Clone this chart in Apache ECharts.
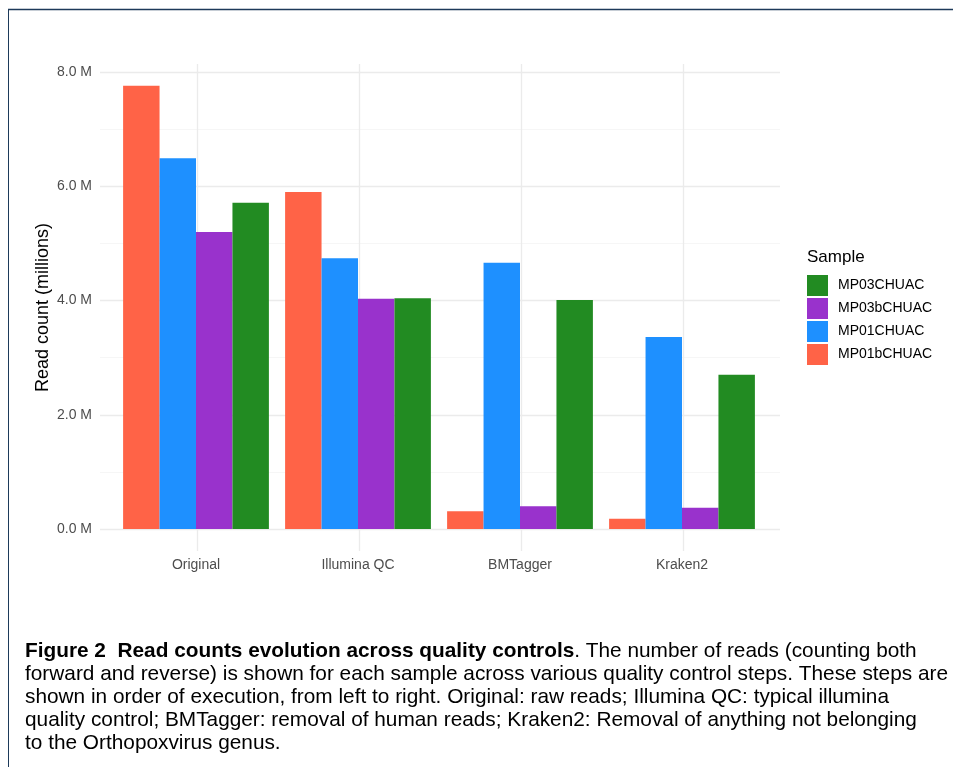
<!DOCTYPE html>
<html>
<head>
<meta charset="utf-8">
<script src="https://cdn.jsdelivr.net/npm/echarts@6/dist/echarts.min.js"></script>
<style>
html,body{margin:0;padding:0;background:#fff;}
#chart{width:953px;height:767px;}
</style>
</head>
<body>
<div id="chart"></div>
<script>
// steps along x, samples are the fill groups
var steps = ['Original', 'Illumina QC', 'BMTagger', 'Kraken2'];
var samples = ['MP01bCHUAC', 'MP01CHUAC', 'MP03bCHUAC', 'MP03CHUAC'];
var sampleColors = ['#FF6347', '#1E90FF', '#9932CC', '#228B22'];
// read counts in millions, one array per sample (same order as steps)
var MP01bCHUAC = [7.76, 5.90, 0.31, 0.18];
var MP01CHUAC = [6.49, 4.74, 4.66, 3.36];
var MP03bCHUAC = [5.20, 4.03, 0.40, 0.37];
var MP03CHUAC = [5.71, 4.04, 4.01, 2.70];
var yTicks = [0, 2, 4, 6, 8];

var captionLines = [
	['Figure 2  Read counts evolution across quality controls', '. The number of reads (counting both'],
	['', 'forward and reverse) is shown for each sample across various quality control steps. These steps are'],
	['', 'shown in order of execution, from left to right. Original: raw reads; Illumina QC: typical illumina'],
	['', 'quality control; BMTagger: removal of human reads; Kraken2: Removal of anything not belonging'],
	['', 'to the Orthopoxvirus genus.']
];

var seriesData = [MP01bCHUAC, MP01CHUAC, MP03bCHUAC, MP03CHUAC];

var series = samples.map(function (s, i) {
	return {
		name: s,
		type: 'bar',
		xAxisIndex: 2,
		yAxisIndex: 2,
		barGap: 0,
		barCategoryGap: '10%',
		itemStyle: { color: sampleColors[i] },
		data: seriesData[i]
	};
});

// caption font is a condensed sans, squeeze Liberation Sans to fit the width
var capFont = 21;
var ctx = document.createElement('canvas').getContext('2d');
ctx.font = capFont + 'px "Liberation Sans"';
var capScale = 923 / ctx.measureText(captionLines[1][1]).width;

var graphics = [
	{ type: 'line', shape: { x1: 8, y1: 9.5, x2: 953, y2: 9.5 }, style: { stroke: '#1d3a5a', lineWidth: 1.5 } },
	{ type: 'line', shape: { x1: 8.5, y1: 9, x2: 8.5, y2: 767 }, style: { stroke: '#1d3a5a', lineWidth: 1 } }
];
captionLines.forEach(function (ln, i) {
	var txt = (ln[0] ? '{b|' + ln[0] + '}' : '') + '{n|' + ln[1] + '}';
	graphics.push({
		type: 'text',
		x: 25,
		y: 651 + i * 23,
		scaleX: capScale,
		style: {
			text: txt,
			verticalAlign: 'middle',
			rich: {
				b: { fontFamily: 'Liberation Sans', fontWeight: 'bold', fontSize: capFont, fill: '#000' },
				n: { fontFamily: 'Liberation Sans', fontSize: capFont, fill: '#000' }
			}
		}
	});
});

var option = {
	backgroundColor: '#fff',
	animation: false,
	textStyle: { fontFamily: 'Liberation Sans' },
	title: {
		text: 'Sample',
		left: 807,
		top: 249,
		padding: 0,
		textStyle: { fontSize: 17, fontWeight: 'normal', color: '#000', fontFamily: 'Liberation Sans' }
	},
	legend: {
		orient: 'vertical',
		left: 807,
		top: 275,
		padding: 0,
		itemWidth: 21,
		itemHeight: 21,
		itemGap: 2,
		icon: 'rect',
		data: samples.slice().reverse(),
		textStyle: { fontSize: 14, color: '#000', padding: [0, 0, 0, 5] }
	},
	grid: [
		// horizontal grid lines + y labels
		{ left: 100, right: 173, top: 72, bottom: 238 },
		// vertical grid lines at category centres
		{ left: 197, right: 270, top: 64, bottom: 216 },
		// bars
		{ left: 115, right: 190, top: 72, bottom: 238 }
	],
	xAxis: [
		{ gridIndex: 0, type: 'value', show: false },
		{
			gridIndex: 1, type: 'category', data: steps, boundaryGap: false,
			axisLine: { show: false }, axisTick: { show: false }, axisLabel: { show: false },
			splitLine: { show: true, lineStyle: { color: '#ebebeb', width: 1.3 } }
		},
		{
			gridIndex: 2, type: 'category', data: steps,
			axisLine: { show: false }, axisTick: { show: false },
			axisLabel: { color: '#4d4d4d', fontSize: 14, margin: 29 }
		}
	],
	yAxis: [
		{
			gridIndex: 0, type: 'value', min: 0, max: 8, interval: 2,
			axisLine: { show: false }, axisTick: { show: false },
			axisLabel: {
				color: '#4d4d4d', fontSize: 14, margin: 8,
				formatter: function (v) { return yTicks.indexOf(v) >= 0 ? v.toFixed(1) + ' M' : ''; }
			},
			splitLine: { show: true, lineStyle: { color: '#ebebeb', width: 1.3 } },
			minorTick: { show: false, splitNumber: 2 },
			minorSplitLine: { show: true, lineStyle: { color: '#f4f4f4', width: 0.8 } }
		},
		{
			gridIndex: 1, type: 'value',
			name: 'Read count (millions)', nameLocation: 'middle', nameGap: 145,
			nameTextStyle: { fontSize: 18, color: '#000' },
			axisLine: { show: false }, axisTick: { show: false },
			axisLabel: { show: false }, splitLine: { show: false }
		},
		{ gridIndex: 2, type: 'value', min: 0, max: 8, show: false }
	],
	series: series,
	graphic: graphics
};

var myChart = echarts.init(document.getElementById('chart'));
myChart.setOption(option);
</script>
</body>
</html>
